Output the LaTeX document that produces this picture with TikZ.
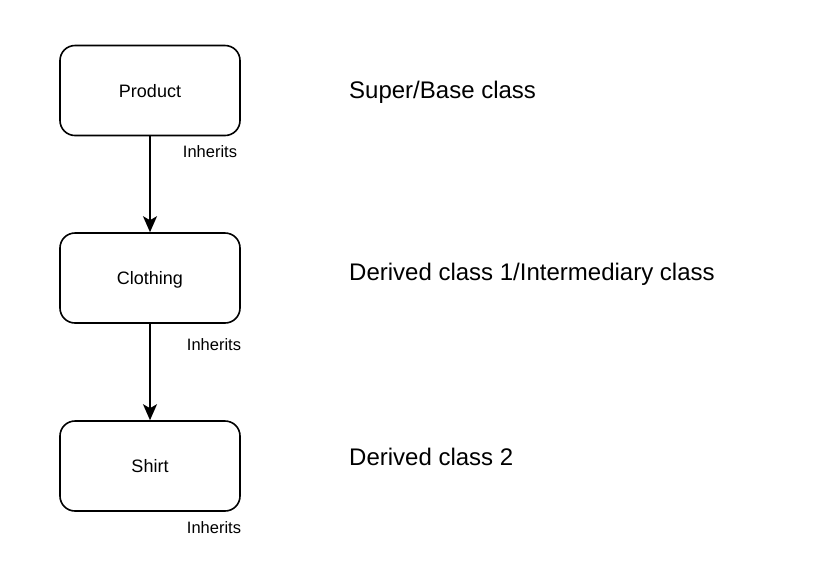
\documentclass[tikz,border=0pt]{standalone}
\usepackage{fontspec}
\setmainfont{Liberation Sans}
\usetikzlibrary{arrows.meta}
\tikzset{
  clsbox/.style={draw,line width=1.6pt,rounded corners=15pt,minimum width=180pt,minimum height=90pt,
    inner sep=0pt,text depth=0pt,font=\fontsize{18}{18}\selectfont},
  inhlabel/.style={inner sep=0pt,font=\fontsize{16.5}{16.5}\selectfont},
  rolelabel/.style={anchor=base west,inner sep=0pt,font=\fontsize{24}{24}\selectfont},
  inharrow/.style={line width=1.6pt,-{Stealth[length=16pt,width=14pt,inset=4pt]}}
}
\begin{document}
\begin{tikzpicture}[x=1pt,y=-1pt]
  \useasboundingbox(0,0)rectangle(834,566);
  % class boxes
  \node[clsbox](product)at(150,90.5){Product};
  \node[clsbox](clothing)at(150,278){Clothing};
  \node[clsbox](shirt)at(150,466){Shirt};
  \draw[inharrow](product)--(clothing);
  \draw[inharrow](clothing)--(shirt);
  % edge labels
  \node[inhlabel](inh1)at(210,152){Inherits};
  \node[inhlabel](inh2)at(214,345){Inherits};
  \node[inhlabel](inh3)at(214,528){Inherits};
  % roles
  \node[rolelabel](superlab)at(349,98){Super/Base class};
  \node[rolelabel](derlab1)at(349,280){Derived class 1/Intermediary class};
  \node[rolelabel](derlab2)at(349,465){Derived class 2};
\end{tikzpicture}
\end{document}
